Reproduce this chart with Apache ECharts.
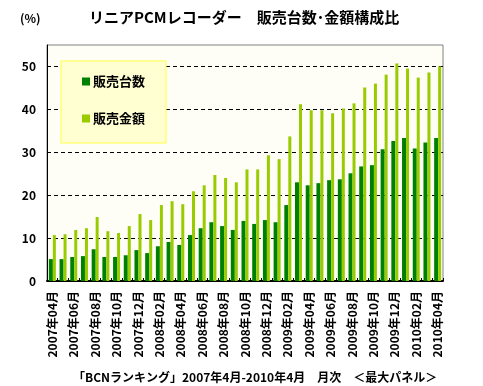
<!DOCTYPE html>
<html>
<head>
<meta charset="utf-8">
<script src="https://cdn.jsdelivr.net/npm/echarts@6/dist/echarts.min.js"></script>
<style>
html,body{margin:0;padding:0;background:#fff;}
#c{width:483px;height:386px;}
</style>
</head>
<body>
<div id="c"></div>
<script>
var categories = ['2007年04月','2007年05月','2007年06月','2007年07月','2007年08月','2007年09月','2007年10月','2007年11月','2007年12月',
  '2008年01月','2008年02月','2008年03月','2008年04月','2008年05月','2008年06月','2008年07月','2008年08月','2008年09月','2008年10月','2008年11月','2008年12月',
  '2009年01月','2009年02月','2009年03月','2009年04月','2009年05月','2009年06月','2009年07月','2009年08月','2009年09月','2009年10月','2009年11月','2009年12月',
  '2010年01月','2010年02月','2010年03月','2010年04月'];
var unitShare = [5.1,5.1,5.6,5.8,7.4,5.6,5.6,6.0,7.2,6.5,8.1,9.1,8.4,10.7,12.3,13.7,12.8,11.9,14.0,13.3,14.2,13.7,17.7,23.0,22.3,22.8,23.5,23.7,25.1,26.7,27.0,30.7,32.6,33.3,30.9,32.3,33.3];
var amountShare = [10.7,10.9,11.9,12.3,14.9,11.6,11.2,12.8,15.6,14.2,17.7,18.6,17.9,20.9,22.3,24.7,24.0,23.0,26.0,26.0,29.3,28.4,33.7,41.2,39.8,39.8,39.1,40.2,41.4,45.1,46.0,48.1,50.7,49.5,47.4,48.6,50.0];
var yTicks = [0,10,20,30,40,50];
var seriesNames = ['販売台数','販売金額'];
var titleText = 'リニアPCMレコーダー　販売台数･金額構成比';
var unitText = '(%)';
var footerText = '「BCNランキング」2007年4月-2010年4月　月次　＜最大パネル＞';

var FONT = '"Noto Sans CJK JP", sans-serif';
var chart = echarts.init(document.getElementById('c'), null, {renderer:'canvas'});
chart.setOption({
  animation: false,
  backgroundColor: '#ffffff',
  title: [
    {text: unitText, left: 15, top: 7, textStyle:{fontFamily:FONT, fontSize:12, fontWeight:'bold', color:'#000'}},
    {text: titleText, left: 84, top: 5, textStyle:{fontFamily:FONT, fontSize:15, fontWeight:'bold', color:'#000'}},
    {text: footerText, left: 68, top: 366, textStyle:{fontFamily:FONT, fontSize:12, fontWeight:'bold', color:'#000'}}
  ],
  legend: {
    data: seriesNames,
    orient: 'vertical',
    left: 61, top: 61,
    padding: [14, 21, 18, 21],
    itemGap: 24,
    itemWidth: 8, itemHeight: 8,
    icon: 'rect',
    backgroundColor: '#ffffd2',
    borderColor: '#ffff40',
    borderWidth: 1,
    textStyle: {fontFamily:FONT, fontSize:13, fontWeight:'bold', color:'#000', padding:[0,0,0,-2]}
  },
  grid: {
    left: 47, right: 40, top: 45, bottom: 105,
    show: true, backgroundColor: '#fefef6', borderColor: '#808080', borderWidth: 1
  },
  xAxis: {
    type: 'category',
    data: categories,
    axisLine: {lineStyle:{color:'#000', width:2}},
    axisTick: {show:true, inside:true, length:3, interval:0, lineStyle:{color:'#000'}},
    axisLabel: {interval:1, rotate:90, margin:10, fontFamily:FONT, fontSize:12, fontWeight:'bold', color:'#000'}
  },
  yAxis: {
    type: 'value',
    min: 0, max: 55, interval: 10,
    axisLine: {show:true, lineStyle:{color:'#000', width:1}},
    axisTick: {show:false},
    axisLabel: {margin:11, showMaxLabel:false, fontFamily:FONT, fontSize:12, fontWeight:'bold', color:'#000',
      formatter: function(v){ return yTicks.indexOf(v) >= 0 ? String(v) : ''; }},
    splitLine: {show:true, showMaxLine:false, lineStyle:{color:'#000', type:[4,3], width:1}}
  },
  series: [
    {name: seriesNames[0], type:'bar', data: unitShare, barWidth:4, barGap:'0%', itemStyle:{color:'#008000'}},
    {name: seriesNames[1], type:'bar', data: amountShare, barWidth:3, barGap:'0%', itemStyle:{color:'#99cc00'}}
  ]
});
</script>
</body>
</html>
